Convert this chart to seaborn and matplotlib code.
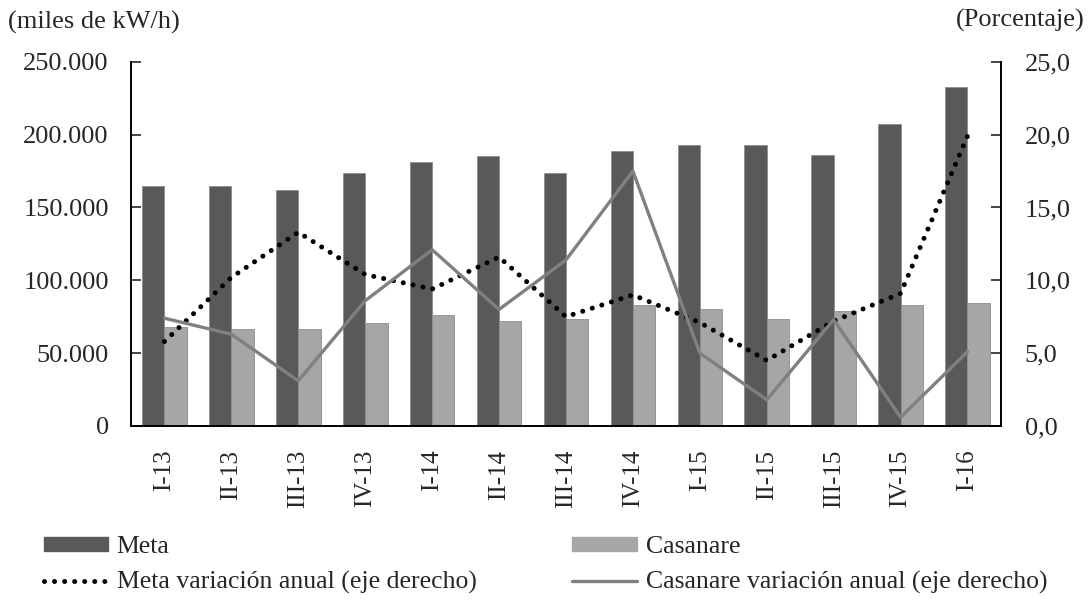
import numpy as np
import pandas as pd
import matplotlib
matplotlib.use("Agg")
import matplotlib.pyplot as plt
import matplotlib.ticker as mticker
from matplotlib.patches import Patch
from matplotlib.lines import Line2D
import seaborn as sns

# Quarterly energy consumption (miles de kW/h) and annual variation (%)
quarters = ['I-13', 'II-13', 'III-13', 'IV-13', 'I-14', 'II-14', 'III-14',
            'IV-14', 'I-15', 'II-15', 'III-15', 'IV-15', 'I-16']
meta = [165000, 165000, 162000, 174000, 181000, 185000, 174000,
        189000, 193000, 193000, 186000, 207000, 232500]
casanare = [67800, 66500, 66500, 70600, 76000, 71900, 73300,
            82900, 80100, 73300, 78800, 82900, 84200]
meta_var = [5.8, 10.2, 13.3, 10.4, 9.4, 11.6, 7.5, 9.0, 7.1, 4.5, 7.2, 9.1, 19.9]
casanare_var = [7.4, 6.3, 3.1, 8.6, 12.1, 8.0, 11.4, 17.5, 5.0, 1.8, 7.3, 0.6, 5.1]

meta_color = '#595959'
casanare_color = '#a6a6a6'
line_gray = '#808080'

sns.set_style('white')
plt.rcParams['font.family'] = ['Liberation Serif', 'DejaVu Serif']

df = pd.DataFrame({
    'Trimestre': quarters * 2,
    'Departamento': ['Meta'] * len(quarters) + ['Casanare'] * len(quarters),
    'Valor': meta + casanare,
})

fig = plt.figure(figsize=(10.88, 6.0), dpi=100)
ax = fig.add_axes([0.1204, 0.29, 0.7996, 0.607])

sns.barplot(data=df, x='Trimestre', y='Valor', hue='Departamento',
            palette={'Meta': meta_color, 'Casanare': casanare_color},
            width=2/3, gap=0, ax=ax, legend=False, saturation=1,
            edgecolor='#8c8c8c', linewidth=0.6)

ax.set_xlim(-0.5, len(quarters) - 0.5)
ax.set_ylim(0, 250000)
ax.yaxis.set_major_locator(mticker.MultipleLocator(50000))
ax.yaxis.set_major_formatter(mticker.FuncFormatter(
    lambda v, p: '0' if v == 0 else f'{int(v):,}'.replace(',', '.')))
ax.set_xlabel('')
ax.set_ylabel('')

ax2 = ax.twinx()
xs = np.arange(len(quarters))
sns.lineplot(x=xs, y=meta_var, ax=ax2, color='black', linewidth=3.6,
             linestyle=(0, (0.01, 2.0)), dash_capstyle='round')
sns.lineplot(x=xs, y=casanare_var, ax=ax2, color=line_gray, linewidth=2.4)
ax2.set_ylim(0, 25)
ax2.yaxis.set_major_locator(mticker.MultipleLocator(5))
ax2.yaxis.set_major_formatter(mticker.FuncFormatter(
    lambda v, p: f'{v:.1f}'.replace('.', ',')))
ax2.set_ylabel('')

# x ticks: labels at centers, tick marks at boundaries
ax.set_xticks(xs)
ax.set_xticklabels(quarters, rotation=90)
ax.set_xticks(np.arange(0.5, len(quarters) - 0.5, 1), minor=True)
ax.tick_params(axis='x', which='major', length=0, labelsize=18, pad=17)
ax.tick_params(axis='x', which='minor', direction='in', length=7, width=1.2,
               colors='black')
ax.tick_params(axis='y', direction='in', length=7, width=1.2, labelsize=19,
               pad=16)
ax2.tick_params(axis='y', direction='in', length=7, width=1.2, labelsize=19,
                pad=17)

for a in (ax, ax2):
    a.spines['top'].set_visible(False)
    for s in ('left', 'right', 'bottom'):
        a.spines[s].set_color('black')
        a.spines[s].set_linewidth(1.2)

fig.text(0.007, 0.963, '(miles de kW/h)', fontsize=19, va='center', ha='left')
fig.text(0.997, 0.966, '(Porcentaje)', fontsize=19, va='center', ha='right')

leg_kw = dict(frameon=False, fontsize=18.5, handlelength=2.5, handleheight=0.45,
              handletextpad=0.35, labelspacing=0.5, borderaxespad=0,
              borderpad=0, loc='upper left')
h_left = [Patch(facecolor=meta_color, edgecolor=meta_color),
          Line2D([0], [0], color='black', linewidth=3.6,
                 linestyle=(0, (0.01, 2.0)), dash_capstyle='round')]
h_right = [Patch(facecolor=casanare_color, edgecolor=casanare_color),
           Line2D([0], [0], color=line_gray, linewidth=2.4)]
fig.legend(h_left, ['Meta', 'Meta variación anual (eje derecho)'],
           bbox_to_anchor=(0.040, 0.106), **leg_kw)
fig.legend(h_right, ['Casanare', 'Casanare variación anual (eje derecho)'],
           bbox_to_anchor=(0.526, 0.106), **leg_kw)

fig.savefig('out.png', dpi=100)
